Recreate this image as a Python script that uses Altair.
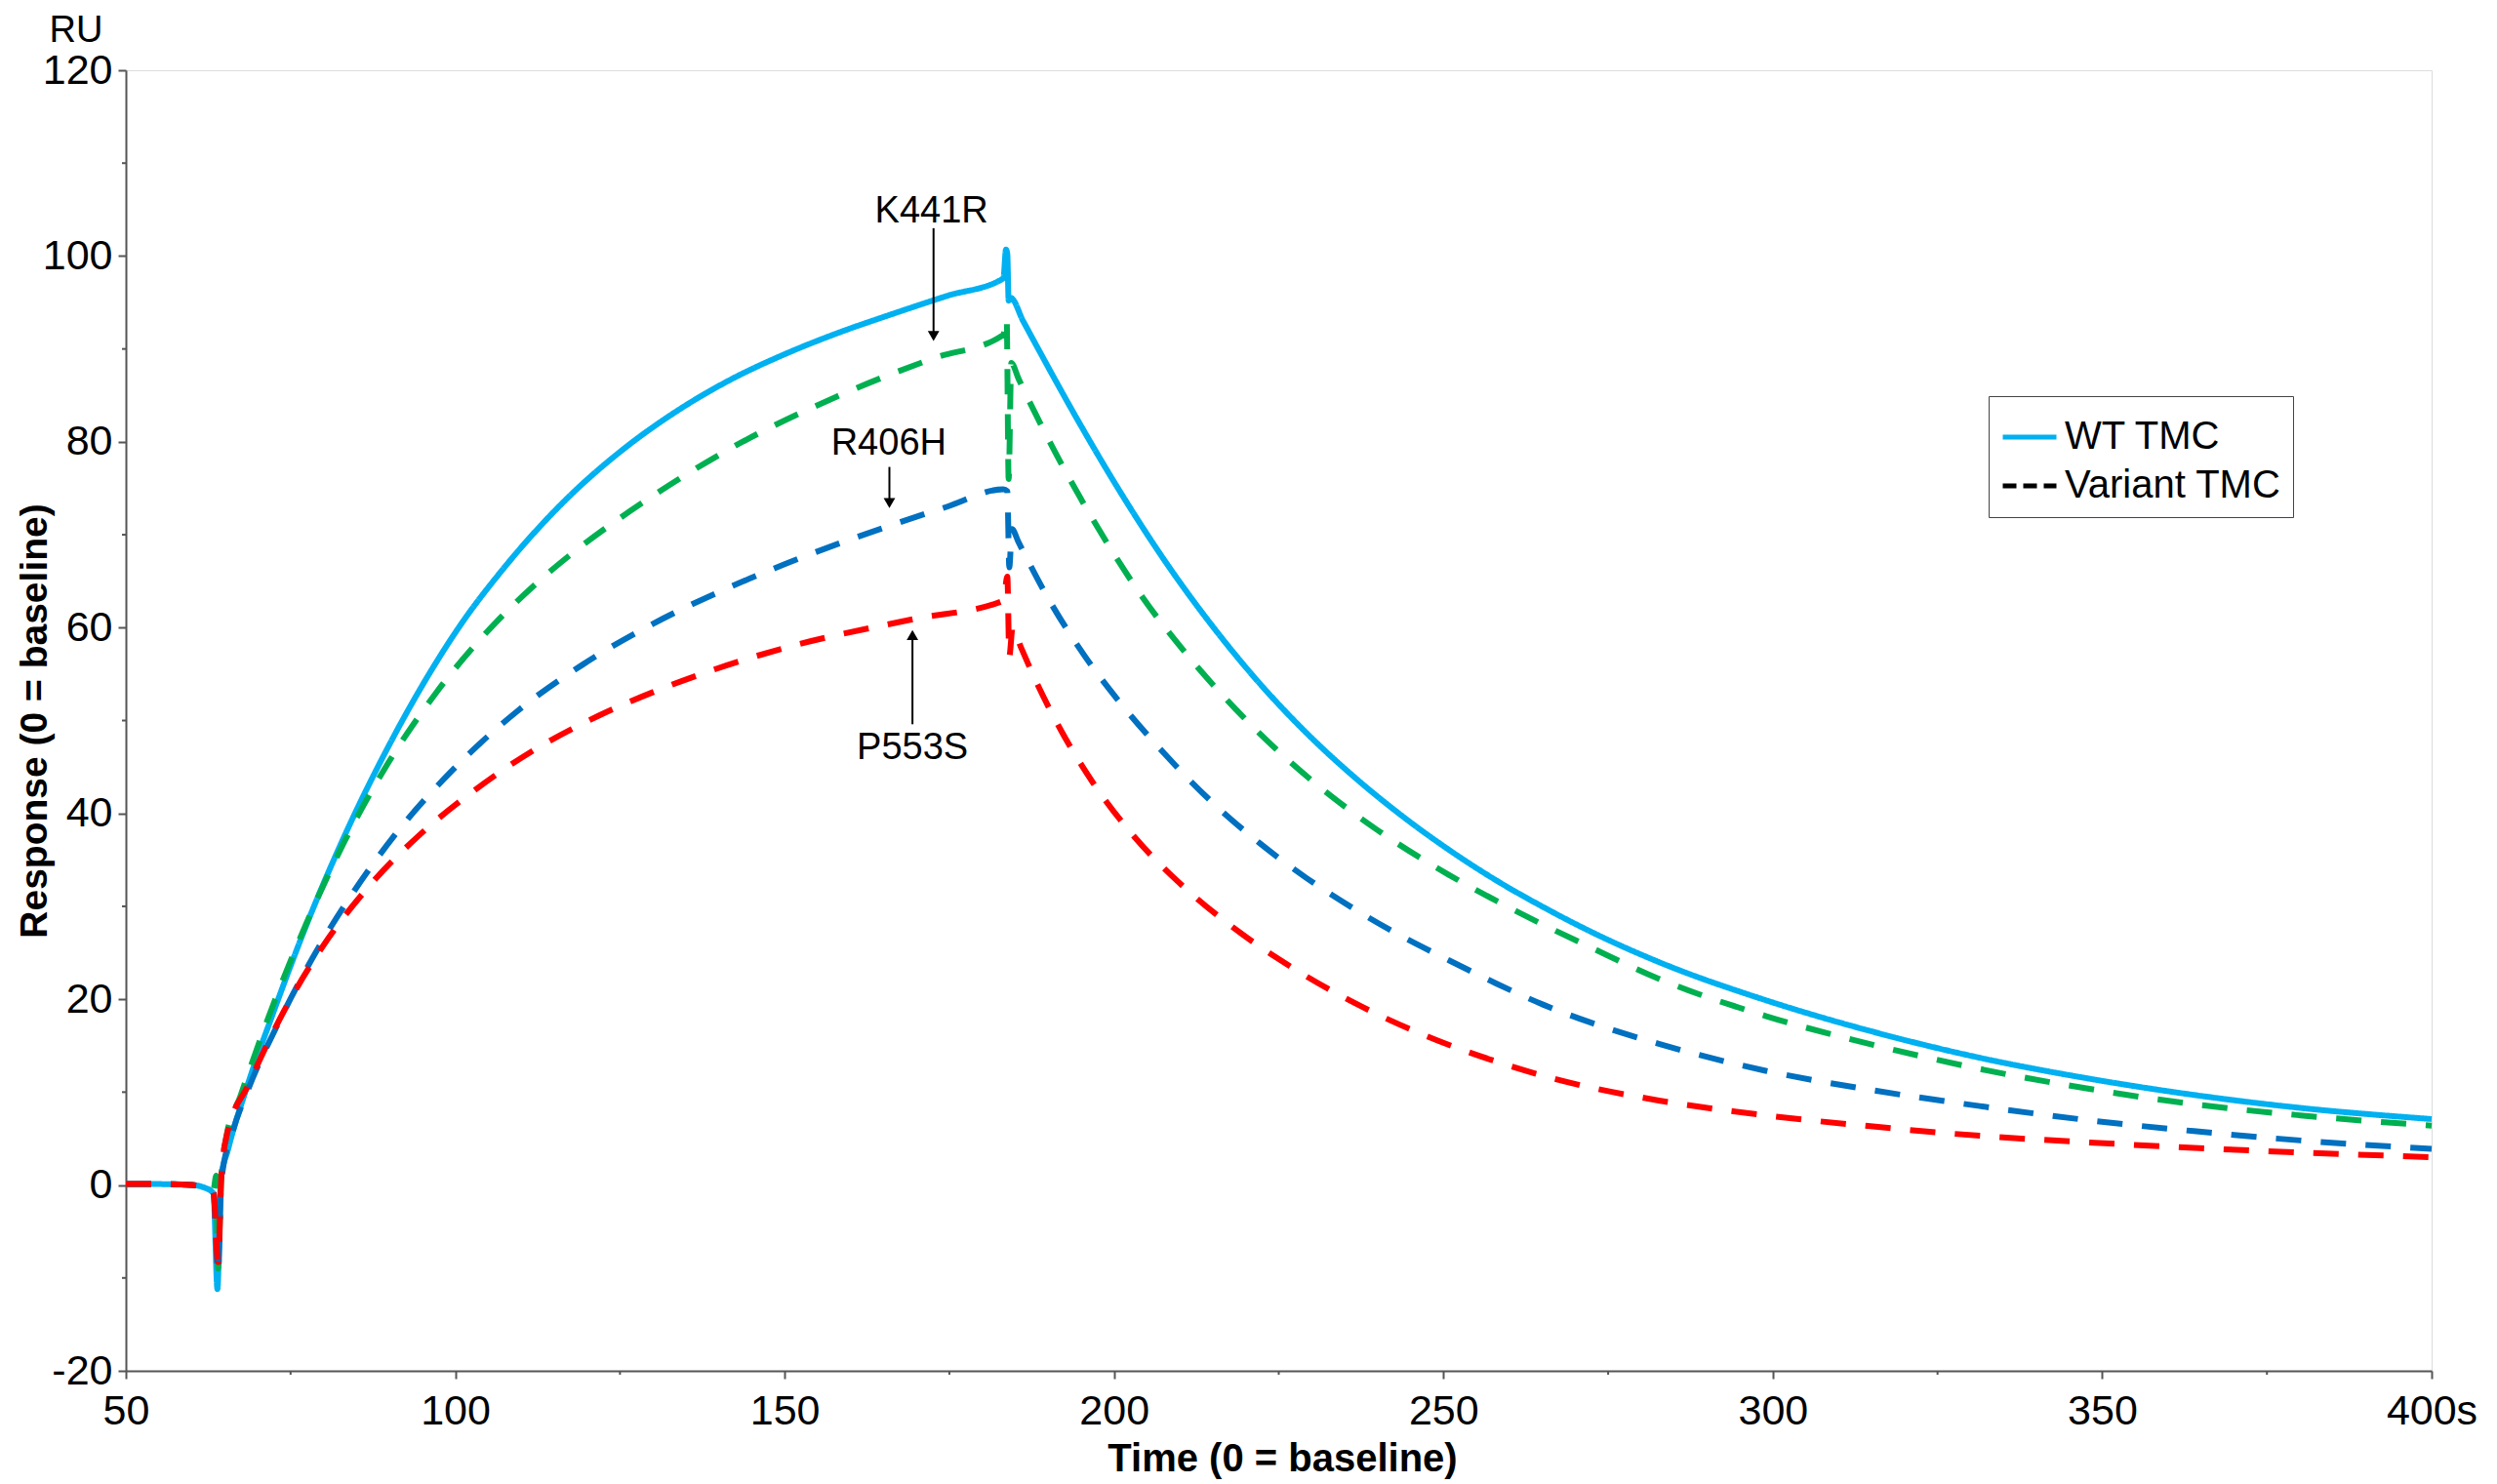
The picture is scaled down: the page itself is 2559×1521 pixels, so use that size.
import altair as alt
import pandas as pd

FONT = "Liberation Sans"

# ---------------- data ----------------
wt_t = [50, 55, 60, 62, 63.3, 63.9, 64.4, 65.5, 68.4, 72.4, 77.3, 83.2, 89.7, 94.6, 101.1, 106.9,
        117.4, 125.5, 133.6, 141.8, 149.9, 158.0, 166.1, 174.6, 183.2, 183.6, 183.8, 184.0, 184.3,
        186.2, 189.8, 193.4, 200.6, 207.7, 214.9, 222.1, 229.3, 236.5, 243.6, 250.8, 258.0, 265.2,
        272.3, 282.7, 298.9, 315.2, 331.4, 347.6, 363.9, 380.1, 400]
wt_y = [0.1, 0.1, 0.0, -0.3, -0.9, -11.2, 0.5, 3.8, 10.6, 18.6, 27.8, 37.6, 47.0, 53.3, 60.6, 66.0,
        74.2, 79.2, 83.3, 86.7, 89.4, 91.7, 93.7, 95.7, 97.6, 100.7, 100.2, 95.2, 95.5,
        93.0, 88.3, 83.7, 75.0, 67.2, 60.2, 54.0, 48.6, 43.9, 39.8, 36.1, 32.8, 29.9,
        27.3, 24.0, 19.9, 16.5, 13.7, 11.5, 9.7, 8.3, 7.1]

k441r_t = [50, 55, 60, 62, 63.3, 63.7, 64.0, 64.5, 65.2, 67.4, 71.4, 77.3, 83.2, 89.7, 97.1, 104.5,
           111.9, 117.4, 129.6, 141.8, 158.0, 172.6, 183.2, 183.7, 184.0, 184.4, 185.5, 189.8, 197.0,
           204.2, 211.3, 218.5, 225.7, 232.9, 240.0, 250.8, 258.0, 265.2, 272.3, 282.7, 298.9, 315.2,
           331.4, 347.6, 363.9, 380.1, 400]
k441r_y = [0.1, 0.1, 0.0, -0.2, -0.5, 1.0, -9.0, 1.0, 5.0, 9.6, 17.6, 28.0, 37.0, 45.3, 53.0, 59.3,
           64.5, 67.8, 74.0, 79.3, 84.9, 89.0, 91.5, 93.3, 76.0, 88.5, 86.8, 80.6, 71.4,
           63.4, 56.9, 51.2, 46.2, 41.9, 38.2, 33.4, 30.6, 28.0, 25.6, 22.2, 18.2, 15.1,
           12.5, 10.4, 8.7, 7.5, 6.4]

r406h_t = [50, 55, 60, 62, 63.3, 64.0, 64.5, 66.2, 68.4, 73.4, 78.3, 84.7, 92.1, 99.5, 109.4, 119.3,
           131.6, 141.8, 149.9, 158.0, 166.1, 174.6, 183.2, 183.8, 184.1, 184.5, 185.5, 189.8, 195.5,
           200.6, 207.7, 214.9, 222.1, 229.3, 236.5, 243.6, 250.8, 258.0, 265.2, 272.3, 282.7, 298.9,
           315.2, 331.4, 347.6, 363.9, 380.1, 400]
r406h_y = [0.1, 0.1, 0.0, -0.3, -0.8, -9.5, 0.5, 5.7, 10.0, 17.8, 24.4, 31.7, 38.8, 44.6, 51.0, 56.0,
           61.0, 64.4, 66.8, 69.0, 71.0, 73.0, 74.9, 74.7, 66.5, 70.6, 69.2, 63.4, 57.0,
           52.2, 46.4, 41.2, 36.8, 33.0, 29.7, 26.8, 24.2, 21.7, 19.4, 17.5, 15.2, 12.3,
           10.2, 8.5, 7.0, 5.8, 4.8, 3.9]

p553s_t = [50, 55, 60, 62, 63.3, 64.0, 64.5, 65.3, 68.6, 73.9, 79.8, 87.2, 94.6, 102.0, 111.9, 121.7,
           131.6, 137.7, 149.9, 169.4, 183.2, 183.8, 184.1, 184.6, 185.8, 188.3, 191.9, 196.9, 202.7,
           209.8, 217.0, 225.7, 236.5, 247.2, 258.0, 268.7, 282.7, 298.9, 315.2, 331.4, 347.6, 363.9,
           380.1, 400]
p553s_y = [0.1, 0.1, 0.0, -0.3, -0.8, -8.3, 1.0, 5.3, 10.8, 18.6, 25.6, 32.4, 37.7, 42.0, 46.8, 50.5,
           53.5, 55.1, 57.8, 60.9, 62.9, 65.5, 56.9, 60.0, 58.0, 54.0, 49.0, 43.2, 37.8,
           32.6, 28.3, 24.0, 19.6, 16.1, 13.3, 11.1, 9.1, 7.5, 6.3, 5.3, 4.6, 4.0,
           3.5, 3.0]

x_ticks = [50, 100, 150, 200, 250, 300, 350, 400]
x_minor = [75, 125, 175, 225, 275, 325, 375]
y_ticks = [-20, 0, 20, 40, 60, 80, 100, 120]
y_minor = [-10, 10, 30, 50, 70, 90, 110]

legend_labels = ["WT TMC", "Variant TMC"]
legend_colors = ["#00B0F0", "#000000"]

ann_labels = ["K441R", "R406H", "P553S"]
ann_t = [172.3, 165.8, 169.4]
ann_y = [104.8, 79.8, 47.0]
arrow_t = [172.6, 165.9, 169.4]
arrow_from = [103.0, 77.3, 49.6]
arrow_head = [91.4, 73.4, 59.2]
arrow_shape = ["triangle-down", "triangle-down", "triangle-up"]

W, H = 2363, 1333
AX = "#555555"

x_scale = alt.Scale(domain=[50, 400], nice=False, zero=False)
y_scale = alt.Scale(domain=[-20, 120], nice=False, zero=False)

x_axis = alt.Axis(values=x_ticks, title="Time (0 = baseline)", grid=False,
                  labelExpr="datum.value == 400 ? '400s' : '' + datum.value",
                  labelFlush=False, labelFont=FONT, labelFontSize=43, labelColor="black",
                  labelPadding=12, tickSize=8, tickWidth=2, tickColor=AX,
                  domainColor=AX, domainWidth=2,
                  titleFont=FONT, titleFontSize=40, titleFontWeight="bold", titleColor="black",
                  titleX=1185, titleY=90, titleBaseline="middle", titleAlign="center")
y_axis = alt.Axis(values=y_ticks, title="Response (0 = baseline)", grid=False,
                  labelExpr="'' + datum.value",
                  labelFont=FONT, labelFontSize=43, labelColor="black",
                  labelPadding=6, tickSize=8, tickWidth=2, tickColor=AX,
                  domainColor=AX, domainWidth=2,
                  titleFont=FONT, titleFontSize=39, titleFontWeight="bold", titleColor="black",
                  titleAngle=270, titleX=-94, titleY=H / 2, titleBaseline="middle",
                  titleAlign="center")


def X(field):
    return alt.X(field, scale=x_scale, axis=x_axis)


def Y(field):
    return alt.Y(field, scale=y_scale, axis=y_axis)


wt_df = pd.DataFrame({"t": wt_t, "y": wt_y, "kind": "WT TMC"})

legend = alt.Legend(title=None, orient="none", legendX=1909, legendY=334,
                    labelFont=FONT, labelFontSize=40, labelColor="black", labelOffset=6,
                    labelLimit=600,
                    symbolType="stroke", symbolSize=3025, symbolStrokeWidth=5,
                    padding=12, strokeColor="#444444", fillColor="white", rowPadding=0)

wt_layer = alt.Chart(wt_df).mark_line(strokeWidth=6, interpolate="monotone").encode(
    x=X("t:Q"),
    y=Y("y:Q"),
    color=alt.Color("kind:N", scale=alt.Scale(domain=legend_labels, range=legend_colors),
                    legend=legend),
    strokeDash=alt.StrokeDash("kind:N",
                              scale=alt.Scale(domain=legend_labels, range=[[1, 0], [14, 7]]),
                              legend=legend),
)


def variant(ts, ys, color):
    df = pd.DataFrame({"t": ts, "y": ys})
    return alt.Chart(df).mark_line(strokeWidth=6, interpolate="monotone").encode(
        x=X("t:Q"),
        y=Y("y:Q"),
        color=alt.value(color),
        strokeDash=alt.value([26, 20]),
    )


green = variant(k441r_t, k441r_y, "#00B050")
blue = variant(r406h_t, r406h_y, "#0070C0")
red = variant(p553s_t, p553s_y, "#FF0000")

minor_x_layer = alt.Chart(pd.DataFrame({"t": x_minor})).mark_rule(
    color=AX, strokeWidth=2).encode(
    x=X("t:Q"), y=alt.value(H), y2=alt.value(H + 4))
minor_y_layer = alt.Chart(pd.DataFrame({"y": y_minor})).mark_rule(
    color=AX, strokeWidth=2).encode(
    y=Y("y:Q"), x=alt.value(0), x2=alt.value(-4))

ann_df = pd.DataFrame({"label": ann_labels, "t": ann_t, "y": ann_y})
ann_text = alt.Chart(ann_df).mark_text(font=FONT, fontSize=38, color="black",
                                       align="center", baseline="middle").encode(
    x=X("t:Q"), y=Y("y:Q"), text="label:N")

arrow_df = pd.DataFrame({"t": arrow_t, "y": arrow_from, "y1": arrow_head,
                         "shape": arrow_shape})
arrow_lines = alt.Chart(arrow_df).mark_rule(color="black", strokeWidth=2).encode(
    x=X("t:Q"), y=Y("y:Q"), y2="y1:Q")
arrow_heads = alt.Chart(arrow_df).mark_point(filled=True, color="black", size=140,
                                             opacity=1).encode(
    x=X("t:Q"), y=Y("y1:Q"),
    shape=alt.Shape("shape:N", scale=None, legend=None))

ru = alt.Chart(pd.DataFrame({"s": ["RU"]})).mark_text(
    font=FONT, fontSize=38, color="black", align="center", baseline="middle").encode(
    text="s:N", x=alt.value(-51), y=alt.value(-40))

chart = alt.layer(
    wt_layer, green, blue, red, minor_x_layer, minor_y_layer,
    arrow_lines, arrow_heads, ann_text, ru
).properties(
    width=W, height=H,
    padding={"left": 121, "top": 64, "right": 59, "bottom": 113},
    autosize=alt.AutoSizeParams(type="none"),
).configure_view(strokeWidth=0).configure(background="white")

chart.save("out.html", embed_options={"renderer": "svg", "actions": False})
